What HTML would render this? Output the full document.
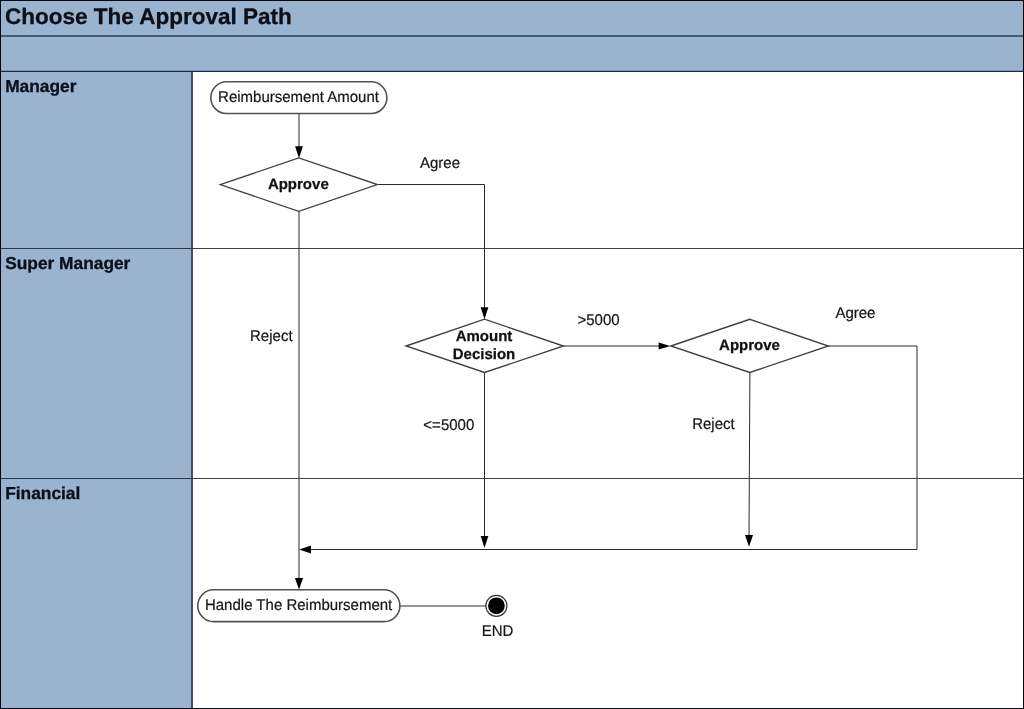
<!DOCTYPE html>
<html>
<head>
<meta charset="utf-8">
<title>Choose The Approval Path</title>
<style>
  html, body { margin: 0; padding: 0; background: #ffffff; }
  body { width: 1024px; height: 709px; overflow: hidden; }
  svg { display: block; will-change: transform; }
  text { font-family: "Liberation Sans", Arial, Helvetica, sans-serif; fill: #0b0f18; text-rendering: geometricPrecision; }
  .title { font-size: 22.5px; font-weight: bold; stroke: #0b0f18; stroke-width: 0.3px; }
  .lane { font-size: 17.33px; font-weight: bold; stroke: #0b0f18; stroke-width: 0.3px; }
  .lbl { font-size: 15px; fill: #151515; stroke: #151515; stroke-width: 0.2px; }
  .blbl { font-size: 15px; font-weight: bold; fill: #111; stroke: #111; stroke-width: 0.25px; }
  .crisp { shape-rendering: crispEdges; }
  .ln { stroke: #2a2a2a; stroke-width: 1; fill: none; }
  .shape { stroke: #404040; stroke-width: 1.35; fill: #ffffff; }
  .pill { stroke: #505050; stroke-width: 1.6; }
  .ah { fill: #000; stroke: none; }
</style>
</head>
<body>
<svg width="1024" height="709" viewBox="0 0 1024 709">
  <!-- backgrounds -->
  <rect x="0" y="0" width="1024" height="709" fill="#ffffff"/>
  <rect class="crisp" x="0" y="0" width="1024" height="72" fill="#9ab4d0"/>
  <rect class="crisp" x="0" y="72" width="192" height="637" fill="#9ab4d0"/>

  <!-- grid / borders -->
  <g class="crisp" fill="#2b3648">
    <rect x="0" y="35" width="1024" height="2" fill="#485a73"/>
    <rect x="0" y="70" width="1024" height="1" fill="#7d93ae"/>
    <rect x="0" y="71" width="1024" height="1" fill="#1f2d42"/>
    <rect x="191" y="72" width="2" height="637" fill="#434e5e"/>
    <rect x="0" y="248" width="193" height="1"/>
    <rect x="0" y="478" width="193" height="1"/>
    <rect x="193" y="248" width="831" height="1" fill="#444"/>
    <rect x="193" y="478" width="831" height="1" fill="#444"/>
  </g>
  <g class="crisp" fill="#05070c">
    <rect x="0" y="0" width="1024" height="1"/>
    <rect x="0" y="0" width="1" height="709"/>
    <rect x="1023" y="0" width="1" height="709"/>
    <rect x="0" y="708" width="1024" height="1"/>
  </g>

  <!-- connectors -->
  <g class="ln">
    <path d="M299 113.5 V150"/>
    <path d="M299 211 V582"/>
    <path d="M377.3 184.5 H484.5 V310"/>
    <path d="M484.5 372 V540"/>
    <path d="M563.5 346 H660"/>
    <path d="M749.9 372.5 L749 538"/>
    <path d="M828.4 346 H917 V549.5 H310"/>
    <path d="M400 606 H486"/>
  </g>
  <!-- arrow heads -->
  <g class="ah">
    <path d="M299 158.2 L295.1 146.2 H302.9 Z"/>
    <path d="M484.5 319.3 L480.65 307.2 H488.35 Z"/>
    <path d="M670.3 346 L658.6 342.4 V349.6 Z"/>
    <path d="M484.5 548 L480.65 536 H488.35 Z"/>
    <path d="M749 546.8 L745 535 H753 Z"/>
    <path d="M299.2 549.5 L311 545.5 V553.5 Z"/>
    <path d="M299 589.5 L294.9 578 H303.1 Z"/>
  </g>

  <!-- shapes -->
  <rect class="shape pill" x="210.8" y="81.8" width="176.1" height="31.7" rx="15.85" ry="15.85"/>
  <path class="shape" d="M220.2 184.6 L298.8 157.9 L377.3 184.6 L298.8 211.4 Z"/>
  <path class="shape" d="M406.1 346 L484.5 319.2 L563.5 346 L484.5 372.5 Z"/>
  <path class="shape" d="M670.8 346 L749.8 319.3 L828.4 346 L749.8 372.5 Z"/>
  <rect class="shape pill" x="197.8" y="589.8" width="202.1" height="31.8" rx="15.9" ry="15.9"/>
  <circle cx="496.4" cy="605.8" r="10.5" fill="#fff" stroke="#333" stroke-width="1.2"/>
  <circle cx="496.4" cy="605.8" r="8.4" fill="#000"/>

  <g>
  <!-- header text -->
  <text class="title" x="5.1" y="24">Choose The Approval Path</text>
  <text class="lane" x="5.2" y="92">Manager</text>
  <text class="lane" x="5.2" y="269">Super Manager</text>
  <text class="lane" x="5.2" y="499">Financial</text>

  <!-- shape text -->
  <text class="lbl" transform="translate(298.5 102) scale(1 1.04)" text-anchor="middle">Reimbursement Amount</text>
  <text class="blbl" x="298.3" y="189" text-anchor="middle">Approve</text>
  <text class="blbl" x="484" y="341" text-anchor="middle">Amount</text>
  <text class="blbl" x="484" y="359" text-anchor="middle">Decision</text>
  <text class="blbl" x="749.5" y="350" text-anchor="middle">Approve</text>
  <text class="lbl" transform="translate(298.6 610) scale(1 1.04)" text-anchor="middle">Handle The Reimbursement</text>

  <!-- labels -->
  <text class="lbl" transform="translate(440 168) scale(1 1.04)" text-anchor="middle">Agree</text>
  <text class="lbl" transform="translate(271.3 341) scale(1 1.04)" text-anchor="middle">Reject</text>
  <text class="lbl" transform="translate(598.5 325) scale(1 1.04)" text-anchor="middle">&gt;5000</text>
  <text class="lbl" transform="translate(855.4 318) scale(1 1.04)" text-anchor="middle">Agree</text>
  <text class="lbl" transform="translate(448.8 430) scale(1 1.04)" text-anchor="middle">&lt;=5000</text>
  <text class="lbl" transform="translate(713.4 429) scale(1 1.04)" text-anchor="middle">Reject</text>
  <text class="lbl" transform="translate(497.5 636) scale(1 1.04)" text-anchor="middle">END</text>
  </g>
</svg>
</body>
</html>
